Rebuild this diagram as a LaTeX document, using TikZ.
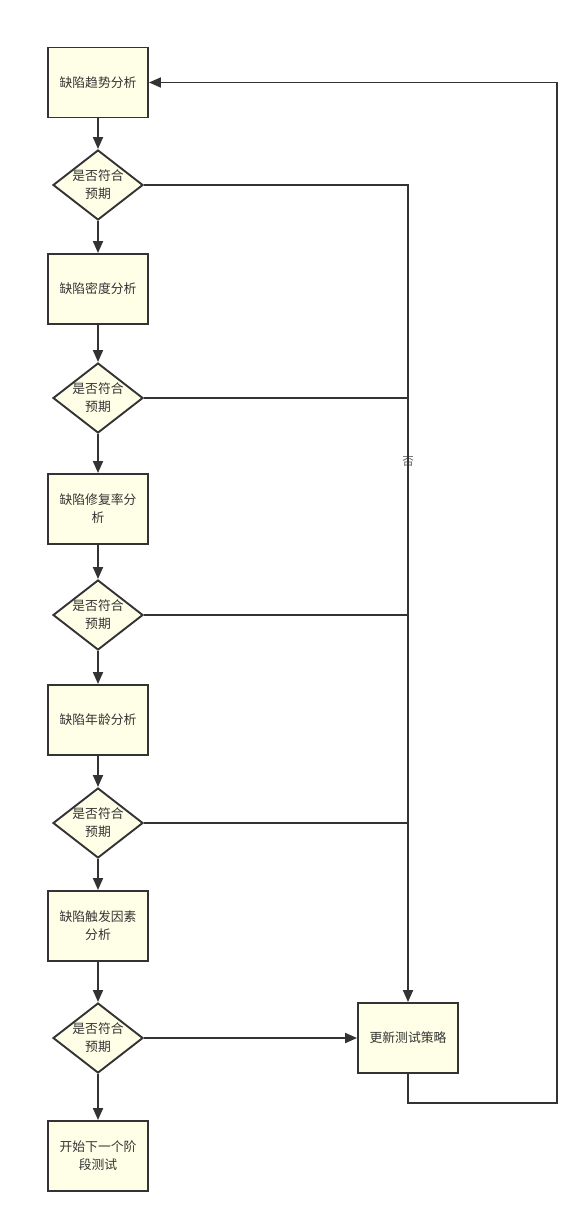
\documentclass[tikz,border=0pt]{standalone}
\usepackage{fontspec}
\setmainfont{Noto Sans CJK SC}
\usetikzlibrary{shapes.geometric,arrows.meta}
\definecolor{boxfill}{RGB}{255,255,232}
\definecolor{linec}{RGB}{51,51,51}
\tikzset{
  procbox/.style={draw=linec, line width=1.9pt, fill=boxfill, minimum width=100pt, minimum height=70pt, inner sep=0pt, align=center, text=linec, font=\fontsize{12.8}{18}\selectfont},
  decide/.style={draw=linec, line width=1.9pt, fill=boxfill, diamond, minimum width=90pt, minimum height=70pt, aspect=1.286, inner sep=0pt},
  dtext/.style={align=center, text=linec, font=\fontsize{12.8}{18}\selectfont},
  conn/.style={draw=linec, line width=1.9pt},
  arr/.style={conn, -{Triangle[length=12pt, width=10pt]}},
}
\begin{document}
\begin{tikzpicture}[x=1pt,y=-1pt]
\useasboundingbox (0,0) rectangle (588,1223);
\node[procbox] (b1) at (98,82.5) {缺陷趋势分析};
\node[decide, label={[dtext]center:是否符合\\预期}] (d1) at (98,185) {};
\node[procbox] (b2) at (98,289) {缺陷密度分析};
\node[decide, label={[dtext]center:是否符合\\预期}] (d2) at (98,398) {};
\node[procbox] (b3) at (98,509) {缺陷修复率分\\析};
\node[decide, label={[dtext]center:是否符合\\预期}] (d3) at (98,615) {};
\node[procbox] (b4) at (98,720) {缺陷年龄分析};
\node[decide, label={[dtext]center:是否符合\\预期}] (d4) at (98,823) {};
\node[procbox] (b5) at (98,926) {缺陷触发因素\\分析};
\node[decide, label={[dtext]center:是否符合\\预期}] (d5) at (98,1038) {};
\node[procbox] (b6) at (98,1156) {开始下一个阶\\段测试};
\node[procbox] (upd) at (408,1038) {更新测试策略};
\node[text=linec!80, font=\fontsize{11.5}{13}\selectfont] (no) at (408,461) {否};

\draw[arr] (b1) -- (d1);
\draw[arr] (d1) -- (b2);
\draw[arr] (b2) -- (d2);
\draw[arr] (d2) -- (b3);
\draw[arr] (b3) -- (d3);
\draw[arr] (d3) -- (b4);
\draw[arr] (b4) -- (d4);
\draw[arr] (d4) -- (b5);
\draw[arr] (b5) -- (d5);
\draw[arr] (d5) -- (b6);
\draw[arr] (d1.east) -| (upd.north);
\draw[conn] (d2.east) -- (d2.east -| upd.north);
\draw[conn] (d3.east) -- (d3.east -| upd.north);
\draw[conn] (d4.east) -- (d4.east -| upd.north);
\draw[arr] (d5.east) -- (upd.west);
\coordinate (c1) at (408,1103);
\coordinate (c2) at (557,1103);
\coordinate (c3) at (557,82.5);
\draw[arr] (upd.south) -- (c1) -- (c2) -- (c3) -- (b1.east);
\end{tikzpicture}
\end{document}
